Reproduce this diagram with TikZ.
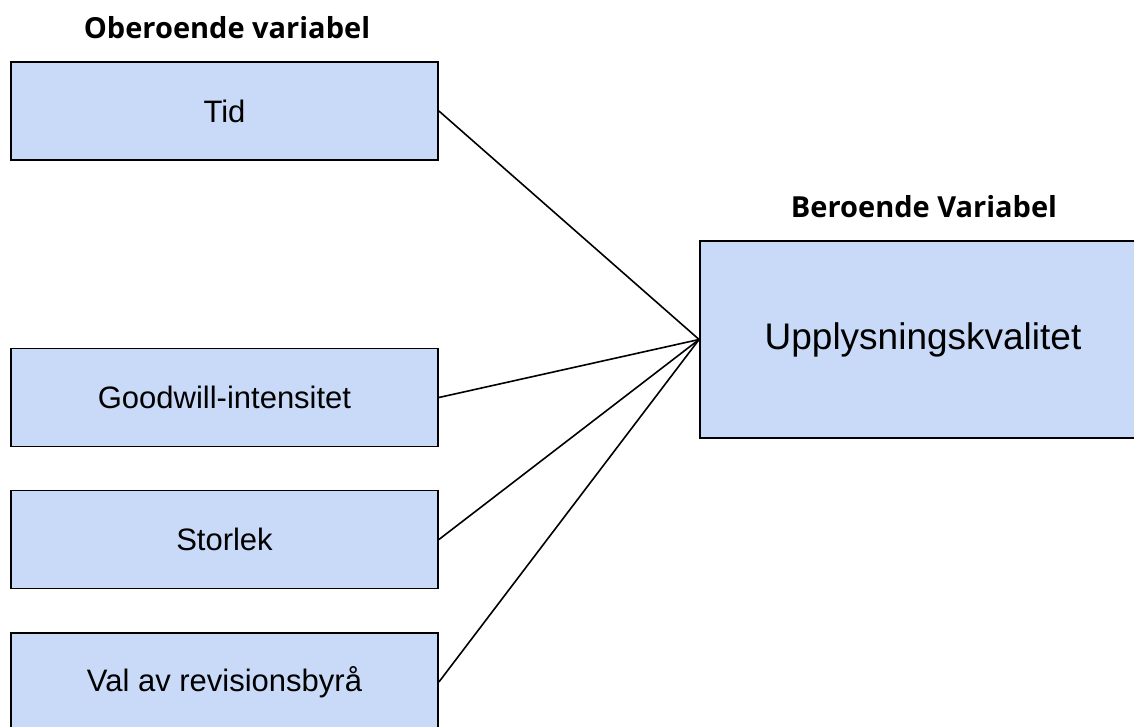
\documentclass[tikz,border=0pt]{standalone}
\usepackage{fontspec}
\setmainfont{Liberation Sans}
\newfontfamily\headfont{Open Sans}
\definecolor{boxblue}{HTML}{C9DAF8}
\tikzset{
  varbox/.style={draw,line width=1.8pt,fill=boxblue,minimum width=427pt,minimum height=98pt,inner sep=0pt,font=\fontsize{31}{37}\selectfont},
  mainbox/.style={varbox,minimum width=446pt,minimum height=197pt,font=\fontsize{37}{44}\selectfont},
  heading/.style={anchor=base,inner sep=0pt,font=\headfont\bfseries\fontsize{29}{34}\selectfont},
  link/.style={line width=1.6pt}
}
\begin{document}
\begin{tikzpicture}[x=1pt,y=-1pt]
\useasboundingbox (0,0) rectangle (1134,727);

\node[heading] (oberoende) at (227,39) {Oberoende variabel};
\node[heading] (beroende) at (924,218) {Beroende Variabel};

\node[varbox] (tid) at (224.5,111) {Tid};
\node[varbox] (goodwill) at (224.5,397.5) {Goodwill-intensitet};
\node[varbox] (storlek) at (224.5,539.5) {Storlek};
\node[varbox] (byra) at (224.5,682) {Val av revisionsbyrå};

\node[mainbox] (kvalitet) at (923,339.5) {Upplysningskvalitet};

\draw[link] (tid.east) -- (kvalitet.west);
\draw[link] (goodwill.east) -- (kvalitet.west);
\draw[link] (storlek.east) -- (kvalitet.west);
\draw[link] (byra.east) -- (kvalitet.west);
\end{tikzpicture}
\end{document}
